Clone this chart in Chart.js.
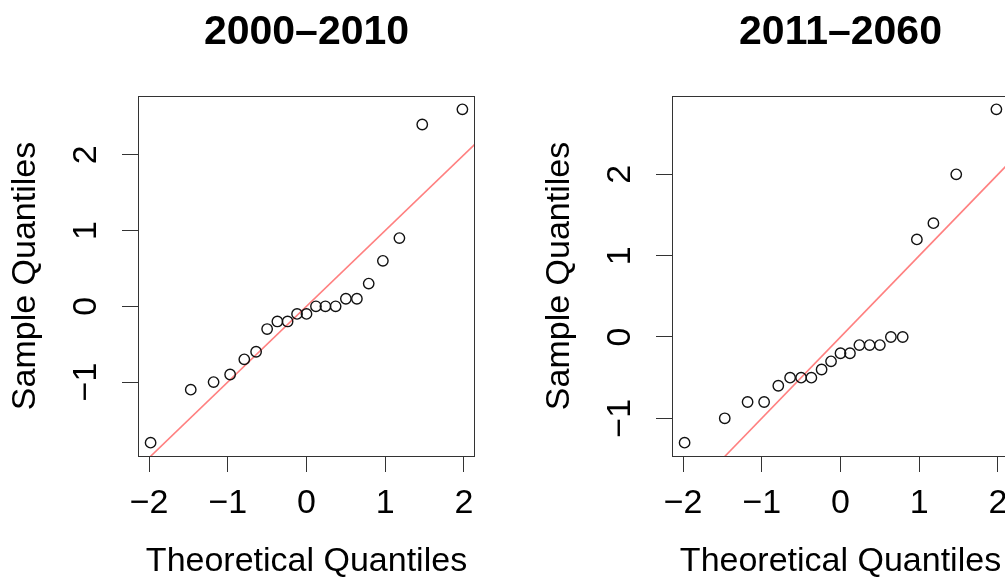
<!DOCTYPE html>
<html>
<head>
<meta charset="utf-8">
<script src="https://cdn.jsdelivr.net/npm/chart.js@4/dist/chart.umd.min.js"></script>
<style>
  html, body { margin: 0; padding: 0; background: #fff; overflow: hidden; }
  body { width: 1005px; height: 579px; position: relative; }
  .panel { position: absolute; top: 0; width: 534px; height: 579px; }
</style>
</head>
<body>
<div class="panel" style="left:0"><canvas id="qqLeft"></canvas></div>
<div class="panel" style="left:534px"><canvas id="qqRight"></canvas></div>
<script>
// theoretical normal quantiles for n = 21 (same for both panels)
const theoretical = [-1.98, -1.47, -1.18, -0.97, -0.79, -0.64, -0.50, -0.37, -0.24, -0.12, 0,
                     0.12, 0.24, 0.37, 0.50, 0.64, 0.79, 0.97, 1.18, 1.47, 1.98];

// sorted sample values
const sample2000 = [-1.8, -1.1, -1.0, -0.9, -0.7, -0.6, -0.3, -0.2, -0.2, -0.1, -0.1,
                    0, 0, 0, 0.1, 0.1, 0.3, 0.6, 0.9, 2.4, 2.6];
const sample2011 = [-1.3, -1.0, -0.8, -0.8, -0.6, -0.5, -0.5, -0.5, -0.4, -0.3, -0.2,
                    -0.2, -0.1, -0.1, -0.1, 0, 0, 1.2, 1.4, 2.0, 2.8];

const titles = ['2000\u20132010', '2011\u20132060'];
const xTicks = [-2, -1, 0, 1, 2];
const yTicks = [-1, 0, 1, 2];
const xLimits = [-2.14, 2.14];
const yLimits2000 = [-1.976, 2.776];
const yLimits2011 = [-1.464, 2.964];
// reference line y = x
const refLine = [{x: -3, y: -3}, {x: 3, y: 3}];

const FONT = "'Liberation Sans', Arial, Helvetica, sans-serif";
const fmt = v => (v < 0 ? '\u2212' + Math.abs(v) : String(v));

// R style box around the plot region
const boxPlugin = {
  id: 'rbox',
  afterDraw(chart) {
    const {ctx, chartArea: a} = chart;
    ctx.save();
    ctx.strokeStyle = '#333';
    ctx.lineWidth = 1;
    ctx.strokeRect(a.left + 0.5, a.top + 0.5, a.right - a.left - 1, a.bottom - a.top);
    ctx.restore();
  }
};

function makeQQ(id, title, sample, yLimits) {
  const points = theoretical.map((q, i) => ({x: q, y: sample[i]}));
  return new Chart(document.getElementById(id), {
    type: 'scatter',
    data: {
      datasets: [
        {
          data: points,
          pointStyle: 'circle',
          pointRadius: 5.2,
          pointBorderWidth: 1.4,
          pointBorderColor: '#111',
          pointBackgroundColor: 'rgba(0,0,0,0)',
          pointHoverRadius: 5.2
        },
        {
          type: 'line',
          data: refLine,
          borderColor: '#ff8080',
          borderWidth: 1.6,
          pointRadius: 0,
          fill: false
        }
      ]
    },
    options: {
      responsive: true,
      maintainAspectRatio: false,
      animation: false,
      events: [],
      layout: { padding: { left: 0, right: 59, top: 0, bottom: 0 } },
      plugins: {
        legend: { display: false },
        tooltip: { enabled: false },
        title: {
          display: true,
          text: title,
          fullSize: false,
          color: '#000',
          font: { family: FONT, size: 41, weight: 'bold', lineHeight: 1 },
          padding: { top: 12, bottom: 43 }
        }
      },
      scales: {
        x: {
          type: 'linear',
          min: xLimits[0],
          max: xLimits[1],
          afterBuildTicks: s => { s.ticks = xTicks.map(v => ({value: v})); },
          afterFit: s => { s.height = 123; },
          border: { display: false },
          grid: { drawOnChartArea: false, drawTicks: true, tickLength: 16, tickColor: '#333', tickWidth: 1 },
          ticks: {
            color: '#000',
            padding: 11,
            callback: v => fmt(v),
            font: { family: FONT, size: 34 }
          },
          title: {
            display: true,
            text: 'Theoretical Quantiles',
            color: '#000',
            font: { family: FONT, size: 34, lineHeight: 1 },
            padding: { top: 0, bottom: 0 }
          }
        },
        y: {
          type: 'linear',
          min: yLimits[0],
          max: yLimits[1],
          afterBuildTicks: s => { s.ticks = yTicks.map(v => ({value: v})); },
          afterFit: s => { s.width = 138; },
          border: { display: false },
          grid: { drawOnChartArea: false, drawTicks: true, tickLength: 16, tickColor: '#333', tickWidth: 1 },
          ticks: {
            color: '#000',
            minRotation: 90,
            maxRotation: 90,
            crossAlign: 'center',
            padding: 16,
            callback: v => fmt(v),
            font: { family: FONT, size: 34 }
          },
          title: {
            display: true,
            text: 'Sample Quantiles',
            color: '#000',
            font: { family: FONT, size: 34, lineHeight: 1 },
            padding: { top: 9, bottom: 0 }
          }
        }
      }
    },
    plugins: [boxPlugin]
  });
}

makeQQ('qqLeft', titles[0], sample2000, yLimits2000);
makeQQ('qqRight', titles[1], sample2011, yLimits2011);
</script>
</body>
</html>
